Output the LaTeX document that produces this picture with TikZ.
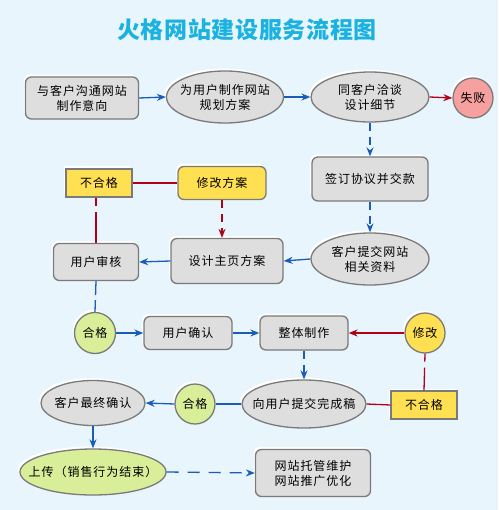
\documentclass[tikz,border=0pt]{standalone}
\usepackage{fontspec}
\setmainfont{Noto Sans CJK SC}[LetterSpace=8]
\newfontfamily\titlefont{Noto Sans CJK SC}[LetterSpace=3]
\usetikzlibrary{shapes.geometric,shadows,arrows.meta}
\definecolor{bg}{HTML}{E8F5FC}
\definecolor{titlec}{HTML}{1AB2E0}
\definecolor{boxfill}{HTML}{DEDEDE}
\definecolor{boxdraw}{HTML}{7A7A7A}
\definecolor{yel}{HTML}{FFE052}
\definecolor{grn}{HTML}{D8EE98}
\definecolor{pinkc}{HTML}{F6A0A0}
\definecolor{bl}{HTML}{1A5CB8}
\definecolor{rd}{HTML}{B0001A}
\tikzset{
  shape3d/.style={draw=boxdraw, line width=1.3pt, fill=boxfill, align=center, inner sep=1pt,
    drop shadow={shadow xshift=-2pt, shadow yshift=2.5pt, fill=white, opacity=1}},
  rbox/.style={shape3d, rectangle, rounded corners=6pt},
  sbox/.style={shape3d, rectangle, fill=yel},
  ell/.style={shape3d, ellipse, inner sep=0pt},
  circ/.style={shape3d, circle, inner sep=0pt, minimum size=40pt},
  txt/.style={align=center, inner sep=0pt},
  bline/.style={draw=bl, line width=1.3pt},
  rline/.style={draw=rd, line width=1.3pt},
  barr/.style={bline, -{Stealth[length=9pt,width=7pt]}},
  rarr/.style={rline, -{Stealth[length=9pt,width=7pt]}},
  dsh/.style={dash pattern=on 8pt off 6pt}
}
\begin{document}
\begin{tikzpicture}[x=1pt,y=-1pt, font=\fontsize{12}{15}\selectfont]
\fill[bg] (0,0) rectangle (498,510);
\useasboundingbox (0,0) rectangle (498,510);
\node[text=titlec, font=\titlefont\fontsize{23}{26}\selectfont\bfseries] (title) at (247,30) {火格网站建设服务流程图};
% row 1
\node[rbox, minimum width=113pt, minimum height=42pt] (A) at (82,98) {与客户沟通网站\\制作意向};
\node[ell, minimum width=117pt, minimum height=52pt, label={[txt]center:为用户制作网站\\规划方案}] (B) at (225,97) {};
\node[ell, minimum width=118pt, minimum height=50pt, label={[txt]center:同客户洽谈\\设计细节}] (C) at (370,97) {};
\node[circ, fill=pinkc, label={[txt]center:失败}] (D) at (473,98) {};
% row 2
\node[rbox, minimum width=116pt, minimum height=44pt] (E) at (370,179) {签订协议并交款};
\node[sbox, minimum width=66pt, minimum height=28pt] (F) at (99,183) {不合格};
\node[rbox, fill=yel, minimum width=88pt, minimum height=33pt] (G) at (222,183) {修改方案};
\node[rbox, minimum width=112pt, minimum height=45pt] (H) at (227,261) {设计主页方案};
\node[ell, minimum width=118pt, minimum height=52pt, label={[txt]center:客户提交网站\\相关资料}] (I) at (370,259) {};
\node[rbox, minimum width=85pt, minimum height=37pt] (J) at (96,262) {用户审核};
% row 3
\node[circ, fill=grn, minimum size=41pt, label={[txt]center:合格}] (K) at (95,333) {};
\node[rbox, minimum width=88pt, minimum height=33pt] (L) at (188,333) {用户确认};
\node[rbox, minimum width=88pt, minimum height=34pt] (M) at (304,333) {整体制作};
\node[circ, fill=yel, label={[txt]center:修改}] (N) at (425,333) {};
% row 4
\node[ell, minimum width=124pt, minimum height=48pt, label={[txt]center:向用户提交完成稿}] (O) at (304,404) {};
\node[sbox, minimum width=66pt, minimum height=28pt] (P) at (424,405) {不合格};
\node[circ, fill=grn, minimum size=40pt, label={[txt]center:合格}] (Q) at (195,404) {};
\node[ell, minimum width=104pt, minimum height=45pt, label={[txt]center:客户最终确认}] (R) at (93,403) {};
% row 5
\node[ell, fill=grn, minimum width=146pt, minimum height=46pt, label={[txt]center:上传（销售行为结束）}] (S) at (93,472) {};
\node[rbox, minimum width=115pt, minimum height=47pt] (T) at (313,473) {网站托管维护\\网站推广优化};
% connectors
\draw[barr] (A.east) -- (B.west);
\draw[barr] (B.east) -- (C.west);
\draw[rarr] (C.east) -- (D.west);
\draw[barr, dsh] (C.south) -- (E.north);
\draw[barr, dsh] (E.south) -- (I.north);
\draw[barr] (I.west) -- (H.east);
\draw[barr] (H.west) -- (J.east);
\draw[rline] (F.east) -- (G.west);
\draw[rarr, dsh] (G.south) -- (G.south |- H.north);
\draw[rline, dash pattern=on 8pt off 6pt on 40pt off 0pt] (F.south -| J.north) -- (J.north);
\draw[bline, dash pattern=on 14pt off 5pt on 40pt off 0pt] (J.south) -- (K.north);
\draw[barr] (K.east) -- (L.west);
\draw[barr] (L.east) -- (M.west);
\draw[rarr] (N.west) -- (M.east);
\draw[barr, dsh] (M.south) -- (O.north);
\draw[rline, dash pattern=on 8pt off 6pt on 40pt off 0pt] (N.south) -- (P.north);
\draw[rline] (O.east) -- (P.west);
\draw[bline] (O.west) -- (Q.east);
\draw[barr] (Q.west) -- (R.east);
\draw[barr] (R.south) -- (S.north);
\draw[barr, dash pattern=on 12pt off 9pt] (S.east) -- (T.west);
\end{tikzpicture}
\end{document}
